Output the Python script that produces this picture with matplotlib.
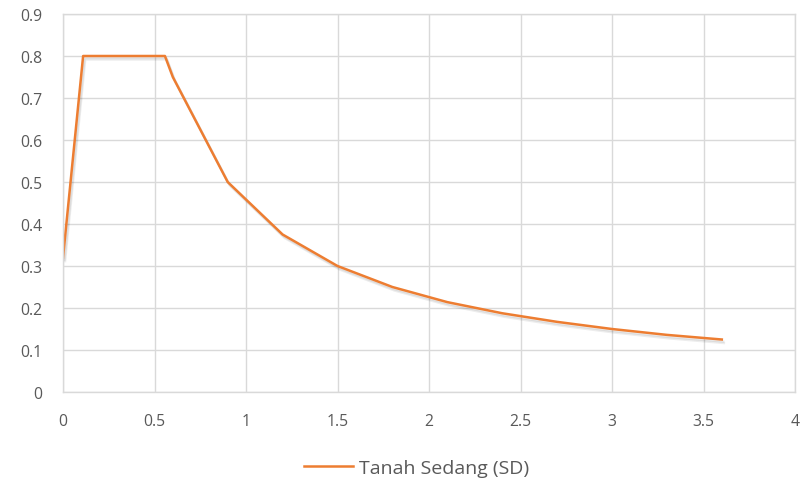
import matplotlib
matplotlib.use("Agg")
import matplotlib.pyplot as plt
import matplotlib.patheffects as pe
import numpy as np

# Data
T = [0.0, 0.11, 0.557, 0.6, 0.9, 1.2, 1.5, 1.8, 2.1, 2.4, 2.7, 3.0, 3.3, 3.6]
Sa = [0.32, 0.8, 0.8, 0.75, 0.5, 0.375, 0.3, 0.25, 0.214, 0.1875, 0.167, 0.15, 0.136, 0.125]
series_name = "Tanah Sedang (SD)"
xticks = [0, 0.5, 1, 1.5, 2, 2.5, 3, 3.5, 4]
xticklabels = ["0", "0.5", "1", "1.5", "2", "2.5", "3", "3.5", "4"]
yticks = [0, 0.1, 0.2, 0.3, 0.4, 0.5, 0.6, 0.7, 0.8, 0.9]
yticklabels = ["0", "0.1", "0.2", "0.3", "0.4", "0.5", "0.6", "0.7", "0.8", "0.9"]

W, H = 801, 485
fig = plt.figure(figsize=(W / 100, H / 100), dpi=100)
left, right, top, bottom = 63, 795, 15, 393
ax = fig.add_axes([left / W, 1 - bottom / H, (right - left) / W, (bottom - top) / H])

fam = ["Open Sans", "DejaVu Sans"]
line, = ax.plot(T, Sa, color="#ED7D31", lw=1.8, label=series_name, solid_joinstyle="round",
                path_effects=[pe.SimpleLineShadow(offset=(1.5, -2.5), shadow_color="#000000", alpha=0.07, rho=1),
                              pe.SimpleLineShadow(offset=(1, -1.5), shadow_color="#000000", alpha=0.07, rho=1),
                              pe.Normal()])

ax.set_xlim(0, 4)
ax.set_ylim(0, 0.9)
ax.set_xticks(xticks)
ax.set_xticklabels(xticklabels)
ax.set_yticks(yticks)
ax.set_yticklabels(yticklabels)
ax.grid(True, color="#D9D9D9", lw=1.0)
ax.set_axisbelow(True)
for s in ax.spines.values():
    s.set_color("#D9D9D9")
    s.set_linewidth(1.0)
ax.tick_params(axis="x", length=0, labelsize=11.3, labelcolor="#595959", pad=15)
ax.tick_params(axis="y", length=0, labelsize=11.3, labelcolor="#595959", pad=15)
for lab in ax.get_xticklabels() + ax.get_yticklabels():
    lab.set_family(fam)

leg = fig.legend(handles=[line], loc="center", bbox_to_anchor=(0.52, 1 - 469 / H), frameon=False,
                 prop={"family": fam, "size": 14}, handlelength=2.5, handletextpad=0.3)
for t in leg.get_texts():
    t.set_color("#595959")
leg.legend_handles[0].set_path_effects([pe.Normal()])

fig.savefig("out.png", dpi=100)
